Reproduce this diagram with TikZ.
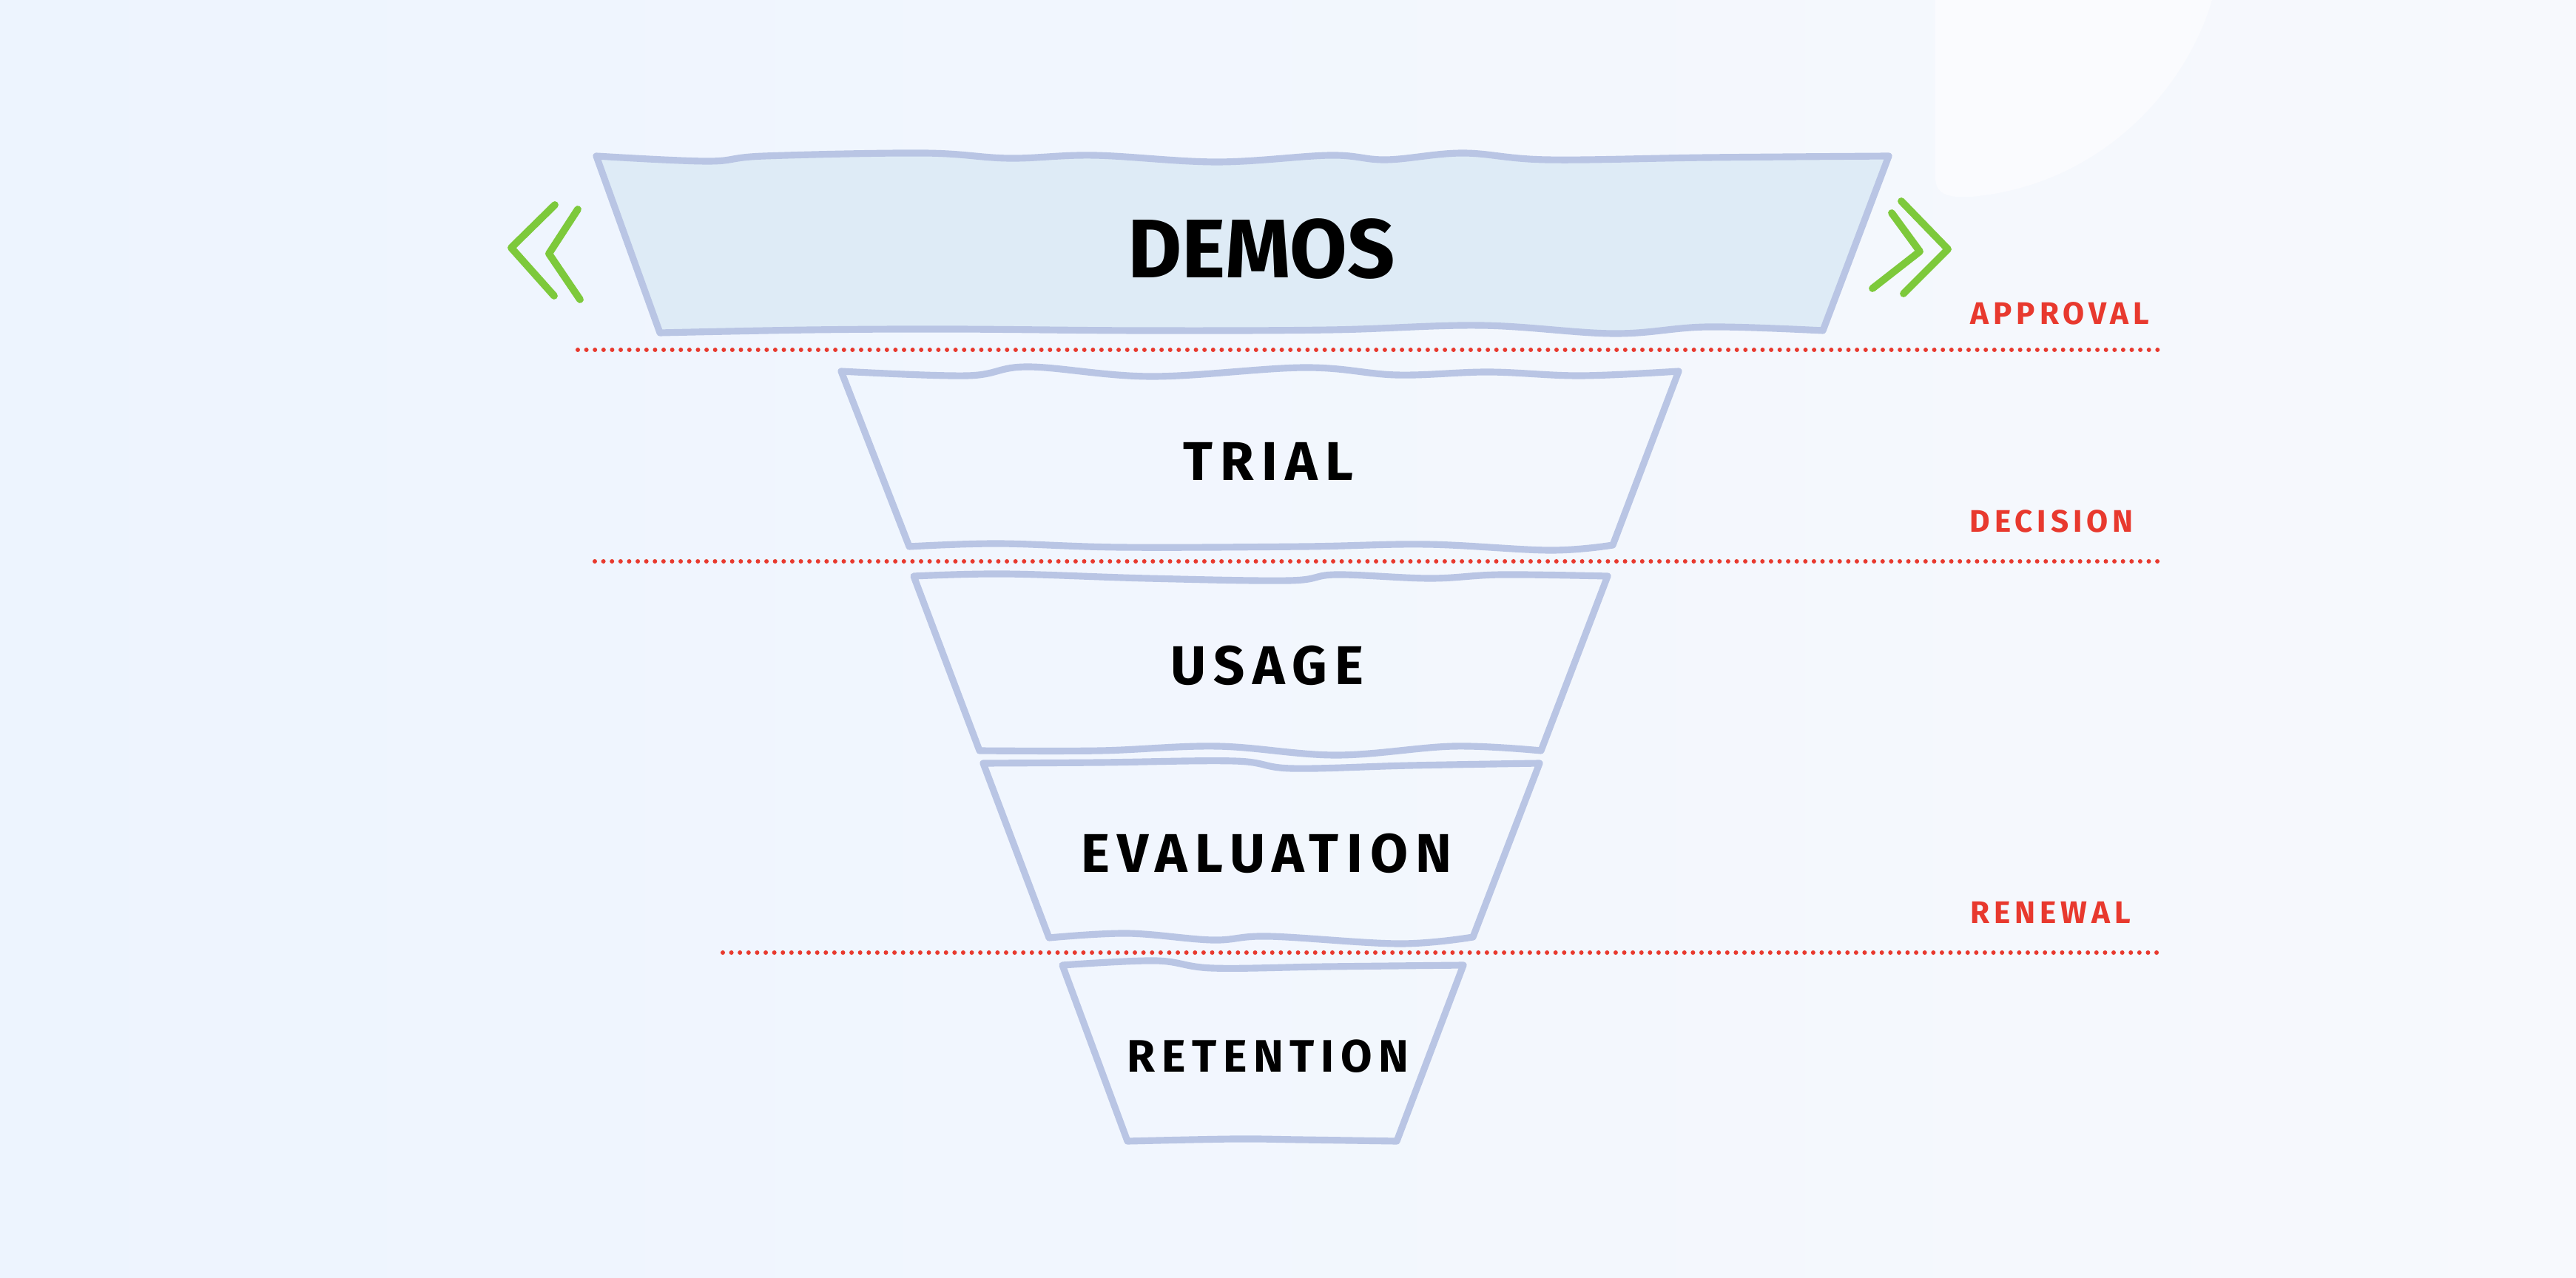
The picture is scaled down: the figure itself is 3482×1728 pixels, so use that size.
\documentclass[tikz,border=0pt]{standalone}
\usepackage{fontspec}
\newfontfamily\handfont[LetterSpace=14]{Fira Sans}
\newfontfamily\titlefont[LetterSpace=0]{Fira Sans}
\definecolor{bgleft}{HTML}{EDF4FE}
\definecolor{bgright}{HTML}{F7F9FD}
\definecolor{bgcorner}{HTML}{FAFBFE}
\definecolor{outline}{HTML}{B9C5E4}
\definecolor{topfill}{HTML}{DEEBF6}
\definecolor{chevron}{HTML}{7DC93B}
\definecolor{gate}{HTML}{E8392E}
\tikzset{
    stage/.style = {draw = outline, line width = 2.6pt, line join = round},
    stagelabel/.style = {font = \handfont\bfseries\fontsize{21pt}{21pt}\selectfont, text = black, inner sep = 0pt},
    gateline/.style = {draw = gate, line width = 1.7pt, line cap = round, dash pattern = on 0pt off 3.3pt},
    gatelabel/.style = {font = \handfont\bfseries\fontsize{12pt}{12pt}\selectfont, text = gate, anchor = west, inner sep = 0pt},
    arrowmark/.style = {draw = chevron, line width = 2.8pt, line cap = round, line join = round}
}
\begin{document}
\begin{tikzpicture}[x = 0.01cm, y = -0.01cm]
    % background
    \shade[left color = bgleft, right color = bgright] (0,0) rectangle (3482,1728);
    \fill[bgcorner] (2616,0) -- (2616,240) .. controls (2616,262) and (2632,268) .. (2665,266) .. controls (2840,250) and (2955,120) .. (2990,0) -- cycle;
    \useasboundingbox (0,0) rectangle (3482,1728);
    % funnel stages
    \begin{scope}[smooth, tension = 0.6]
        \draw[stage, fill = topfill] plot coordinates{(806,211) (956,218) (1033,211) (1249,207) (1364,214) (1479,210) (1645,219) (1798,210) (1874,216) (1977,207) (2091,216) (2308,213) (2553,211)}
            -- plot coordinates{(2464,447) (2308,442) (2181,451) (2002,440) (1798,446) (1543,447) (1288,445) (1096,446) (892,450)} -- cycle;
        \draw[stage] plot coordinates{(1137,502) (1307,508) (1390,496) (1556,509) (1763,497) (1888,507) (2012,503) (2136,508) (2269,502)}
            -- plot coordinates{(2180,737) (2095,744) (1929,736) (1763,739) (1515,740) (1349,735) (1229,739)} -- cycle;
        \draw[stage] plot coordinates{(1235,779) (1359,776) (1551,782) (1742,785) (1806,777) (1933,782) (2029,777) (2173,779)}
            -- plot coordinates{(2083,1015) (1965,1009) (1806,1021) (1646,1009) (1487,1015) (1324,1015)} -- cycle;
        \draw[stage] plot coordinates{(1329,1032) (1486,1031) (1669,1029) (1746,1039) (1906,1035) (2081,1032)}
            -- plot coordinates{(1991,1267) (1891,1276) (1715,1266) (1639,1271) (1524,1262) (1418,1268)} -- cycle;
        \draw[stage] plot coordinates{(1436,1305) (1562,1299) (1639,1309) (1792,1307) (1978,1305)}
            -- plot coordinates{(1888,1543) (1757,1541) (1668,1540) (1524,1543)} -- cycle;
    \end{scope}
    \node[stagelabel, font = \titlefont\bfseries\fontsize{32pt}{32pt}\selectfont] (demos) at (1705,337) {DEMOS};
    \node[stagelabel] (trial) at (1714,624) {TRIAL};
    \node[stagelabel] (usage) at (1713,900) {USAGE};
    \node[stagelabel] (evaluation) at (1712,1154) {EVALUATION};
    \node[stagelabel, font = \handfont\bfseries\fontsize{17.5pt}{17.5pt}\selectfont] (retention) at (1714,1428) {RETENTION};
    % chevrons
    \draw[arrowmark] (750,277) -- (691,335) -- (749,400);
    \draw[arrowmark] (781,283) -- (742,343) -- (784,405);
    \draw[arrowmark] (2570,272) -- (2633,337) -- (2573,397);
    \draw[arrowmark] (2557,288) -- (2595,340) -- (2531,390);
    % gates
    \draw[gateline] (781,473) -- (2925,473);
    \draw[gateline] (804,759) -- (2924,759);
    \draw[gateline] (977,1288) -- (2925,1288);
    \node[gatelabel] (approval) at (2663,424) {APPROVAL};
    \node[gatelabel] (decision) at (2662,705) {DECISION};
    \node[gatelabel] (renewal) at (2663,1234) {RENEWAL};
\end{tikzpicture}
\end{document}
